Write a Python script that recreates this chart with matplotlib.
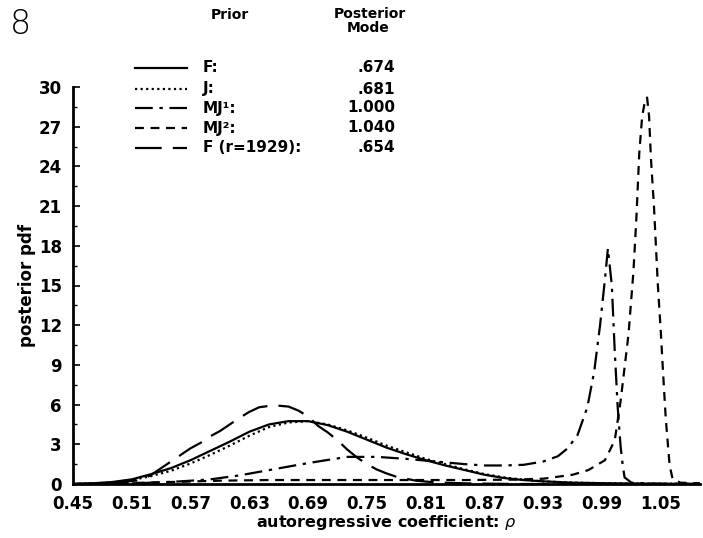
import numpy as np
import matplotlib
matplotlib.use("Agg")
import matplotlib.pyplot as plt
from matplotlib.lines import Line2D
from matplotlib.ticker import MultipleLocator

plt.rcParams['font.family'] = ['DejaVu Sans']

# prior F
x_f = [0.45, 0.47, 0.49, 0.51, 0.53, 0.55, 0.57, 0.59, 0.61, 0.63, 0.65, 0.67, 0.69, 0.71,
       0.73, 0.75, 0.77, 0.79, 0.81, 0.83, 0.85, 0.87, 0.89, 0.91, 0.93, 0.96, 1.0, 1.05, 1.09]
y_f = [0.0, 0.05, 0.15, 0.35, 0.75, 1.2, 1.8, 2.5, 3.2, 3.95, 4.5, 4.75, 4.75, 4.45,
       3.95, 3.35, 2.75, 2.25, 1.8, 1.4, 1.05, 0.7, 0.45, 0.3, 0.2, 0.1, 0.05, 0.02, 0.0]

# prior J
x_j = x_f
y_j = [0.0, 0.04, 0.12, 0.3, 0.6, 1.0, 1.55, 2.2, 2.9, 3.65, 4.3, 4.65, 4.75, 4.5,
       4.05, 3.5, 2.9, 2.4, 1.9, 1.5, 1.1, 0.75, 0.5, 0.32, 0.2, 0.1, 0.05, 0.02, 0.0]

# prior MJ1
x_mj1 = [0.45, 0.50, 0.53, 0.56, 0.59, 0.62, 0.65, 0.68, 0.70, 0.73, 0.76, 0.79, 0.82, 0.85,
         0.87, 0.89, 0.91, 0.93, 0.945, 0.955, 0.965, 0.975, 0.982, 0.988, 0.993, 0.996,
         1.000, 1.003, 1.006, 1.009, 1.011, 1.013, 1.02, 1.04, 1.09]
y_mj1 = [0.0, 0.02, 0.1, 0.2, 0.35, 0.65, 1.05, 1.45, 1.7, 2.05, 2.05, 1.9, 1.7, 1.5,
         1.4, 1.4, 1.45, 1.7, 2.1, 2.7, 3.7, 5.8, 8.5, 12.0, 15.5, 17.8,
         15.0, 10.0, 5.8, 2.8, 1.5, 0.5, 0.1, 0.02, 0.0]

# prior MJ2
x_mj2 = [0.45, 0.50, 0.55, 0.60, 0.65, 0.70, 0.75, 0.80, 0.85, 0.90, 0.93, 0.96, 0.976, 0.993,
         1.003, 1.009, 1.017, 1.022, 1.025, 1.028, 1.031, 1.034, 1.036, 1.038, 1.040, 1.043,
         1.045, 1.047, 1.050, 1.052, 1.055, 1.059, 1.062, 1.07, 1.09]
y_mj2 = [0.0, 0.05, 0.15, 0.25, 0.3, 0.3, 0.3, 0.3, 0.3, 0.33, 0.4, 0.7, 1.05, 1.8,
         3.3, 6.3, 11.3, 16.0, 20.0, 25.0, 27.8, 29.0, 29.2, 27.8, 24.5, 21.0,
         18.0, 15.0, 11.5, 8.8, 5.0, 1.4, 0.4, 0.1, 0.05]

# prior F with r=1929
x_f29 = [0.45, 0.48, 0.50, 0.52, 0.53, 0.54, 0.55, 0.56, 0.57, 0.58, 0.59, 0.60, 0.61, 0.62,
         0.63, 0.64, 0.655, 0.67, 0.68, 0.69, 0.70, 0.71, 0.72, 0.73, 0.74, 0.75, 0.76,
         0.77, 0.78, 0.80, 0.82, 0.85, 0.90, 1.09]
y_f29 = [0.0, 0.05, 0.15, 0.3, 0.7, 1.2, 1.7, 2.2, 2.7, 3.1, 3.6, 4.0, 4.5, 5.0,
         5.45, 5.8, 5.95, 5.85, 5.55, 5.1, 4.4, 3.9, 3.3, 2.6, 2.0, 1.5, 1.1,
         0.8, 0.55, 0.25, 0.12, 0.05, 0.0, 0.0]

prior_names = ["F:", "J:", "MJ\u00b9:", "MJ\u00b2:", "F (r=1929):"]
modes = [".674", ".681", "1.000", "1.040", ".654"]
styles = ['-', (0, (1, 1.5)), (0, (8, 3, 1.5, 3)), (0, (4, 3)), (0, (12, 5))]

x_ticks = [0.45, 0.51, 0.57, 0.63, 0.69, 0.75, 0.81, 0.87, 0.93, 0.99, 1.05]
y_ticks = [0, 3, 6, 9, 12, 15, 18, 21, 24, 27, 30]

W, H = 703, 538
fig = plt.figure(figsize=(W / 100, H / 100), dpi=100)
ax = fig.add_axes([73 / W, (H - 484) / H, (700 - 73) / W, (484 - 87) / H])

series = [(x_f, y_f), (x_j, y_j), (x_mj1, y_mj1), (x_mj2, y_mj2), (x_f29, y_f29)]
for (xs, ys), ls in zip(series, styles):
    ax.plot(xs, ys, color='black', linestyle=ls, linewidth=1.6)

ax.set_xlim(0.45, 1.09)
ax.set_ylim(0, 30)
ax.set_xticks(x_ticks)
ax.set_xticklabels([f"{v:.2f}" for v in x_ticks])
ax.set_yticks(y_ticks)
ax.yaxis.set_minor_locator(MultipleLocator(1.5))
ax.tick_params(axis='x', length=0, pad=8, labelsize=12)
ax.tick_params(axis='y', which='major', direction='in', length=5, width=1.2, pad=8, labelsize=12)
ax.tick_params(axis='y', which='minor', direction='in', length=3, width=1.0)
for lab in ax.get_xticklabels() + ax.get_yticklabels():
    lab.set_fontweight('bold')
for s in ['top', 'right']:
    ax.spines[s].set_visible(False)
for s in ['left', 'bottom']:
    ax.spines[s].set_linewidth(2)

ax.set_xlabel("autoregressive coefficient: $\\rho$", fontsize=11.5, fontweight='bold', labelpad=0)
ax.set_ylabel("posterior pdf", fontsize=12, fontweight='bold', labelpad=2)

# figure number
fig.text(10 / W, 1 - 34 / H, "8", fontsize=24, fontweight='light')

# legend table
fig.text(230 / W, 1 - 15 / H, "Prior", ha='center', va='center', fontsize=10, fontweight='bold')
fig.text(370 / W, 1 - 14 / H, "Posterior", ha='center', va='center', fontsize=10, fontweight='bold')
fig.text(368 / W, 1 - 28 / H, "Mode", ha='center', va='center', fontsize=10, fontweight='bold')
rows_y = [68, 89, 108, 128, 148]
for ry, name, mode, ls in zip(rows_y, prior_names, modes, styles):
    yy = 1 - ry / H
    fig.add_artist(Line2D([135 / W, 187 / W], [yy, yy], color='black', linestyle=ls,
                          linewidth=1.6, transform=fig.transFigure))
    fig.text(203 / W, yy, name, ha='left', va='center', fontsize=11, fontweight='bold')
    fig.text(395 / W, yy, mode, ha='right', va='center', fontsize=11, fontweight='bold')

fig.savefig("out.png", dpi=100)
